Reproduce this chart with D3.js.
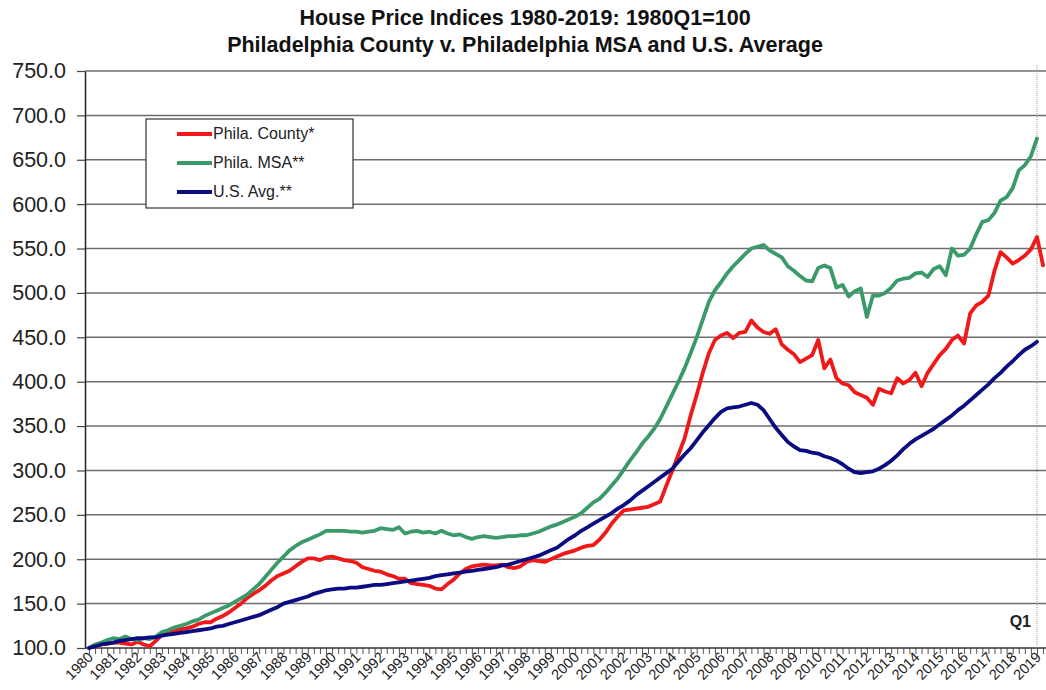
<!DOCTYPE html>
<html><head><meta charset="utf-8">
<script src="https://cdn.jsdelivr.net/npm/d3@7"></script>
<style>body{margin:0;background:#fff} svg{display:block} text{font-family:Arial,"Liberation Sans",sans-serif}</style>
</head><body><svg id="c" width="1046" height="690"></svg>
<script>
const titleLines = ["House Price Indices 1980-2019: 1980Q1=100", "Philadelphia County v. Philadelphia MSA and U.S. Average"];
const yearLabels = ["1980","1981","1982","1983","1984","1985","1986","1987","1988","1989","1990","1991","1992","1993","1994","1995","1996","1997","1998","1999","2000","2001","2002","2003","2004","2005","2006","2007","2008","2009","2010","2011","2012","2013","2014","2015","2016","2017","2018","2019"];
const yTicks = [100,150,200,250,300,350,400,450,500,550,600,650,700,750];
const seriesNames = ["Phila. County*", "Phila. MSA**", "U.S. Avg.**"];
const seriesColors = ["#f01818", "#3a9a6a", "#0c0c82"];

// Quarterly values, 1980Q1 onward
const county = [
100,102,104,105, 106,106,105,104, 107,104,102,108, 115,117,119,121,
122,124,127,129, 129,133,136,140, 145,150,156,161, 165,170,176,181,
184,187,192,197, 201,201,199,202, 203,201,199,198, 196,191,189,187,
186,183,181,178, 178,173,172,171, 170,167,166,172, 177,184,189,192,
193,194,193,193, 194,191,190,192, 197,199,198,197, 200,203,206,208,
210,213,215,216, 222,230,240,248, 255,256,257,258, 259,262,265,283,
300,318,336,362, 385,410,432,447, 452,455,449,455, 456,469,461,456,
454,459,442,436, 431,422,426,430, 447,415,425,404, 398,396,388,385,
382,374,392,389, 387,404,398,402, 410,395,410,420, 430,437,447,452,
443,477,486,490, 497,525,546,540, 533,537,542,549, 563,531];
const msa = [
100,104,106,109, 111,110,113,110, 109,111,110,113, 118,120,123,125,
127,130,132,136, 139,142,145,148, 152,156,160,166, 172,180,188,196,
203,210,215,219, 222,225,228,232, 232,232,232,231, 231,230,231,232,
235,234,233,236, 229,231,232,230, 231,229,232,229, 227,228,225,223,
225,226,225,224, 225,226,226,227, 227,229,231,234, 237,239,242,245,
248,252,258,264, 268,275,283,291, 301,311,320,330, 338,347,358,372,
386,400,415,432, 450,470,490,503, 512,522,530,537, 544,550,552,554,
548,544,540,530, 525,519,514,513, 528,531,528,506, 509,496,502,505,
473,497,497,500, 506,514,516,517, 522,523,518,527, 530,520,550,542,
543,550,566,580, 582,590,604,608, 618,638,644,654, 674];
const usAvg = [
100,102,104,105, 106,108,109,110, 111,111,112,112, 114,115,116,117,
118,119,120,121, 122,124,125,127, 129,131,133,135, 137,140,143,146,
150,152,154,156, 158,161,163,165, 166,167,167,168, 168,169,170,171,
171,172,173,174, 175,176,177,178, 179,181,182,183, 184,185,186,187,
188,189,190,191, 193,194,196,198, 200,202,204,207, 210,213,218,223,
227,232,236,240, 244,248,252,257, 261,266,272,277, 282,287,292,297,
302,310,318,325, 334,343,351,359, 366,370,371,372, 374,376,374,368,
358,348,340,332, 327,323,322,320, 319,316,314,311, 307,302,298,297,
298,299,302,306, 311,317,324,330, 335,339,343,347, 352,357,362,368,
373,379,385,391, 397,404,410,417, 423,430,436,440, 445];
const markerLabel = "Q1";

const svg = d3.select("#c");
const pLeft = 85, pRight = 1046, pTop = 71, pBottom = 648;
const x = d3.scaleLinear().domain([0, 156]).range([89, 1037]);
const y = d3.scaleLinear().domain([100, 750]).range([pBottom, pTop]);

// Title
svg.selectAll("text.title").data(titleLines).join("text")
  .attr("class","title").attr("x", 525).attr("y", (d,i)=> 25 + i*27)
  .attr("text-anchor","middle").attr("font-size", 21.5).attr("font-weight","bold").attr("fill","#111")
  .text(d=>d);

// Gridlines
svg.append("g").selectAll("line").data(yTicks.filter(d=>d>100)).join("line")
  .attr("x1", pLeft).attr("x2", pRight).attr("y1", d=>y(d)).attr("y2", d=>y(d))
  .attr("stroke", "#6e6e6e").attr("stroke-width", 1.5);

// Y axis
const ya = svg.append("g").attr("transform", `translate(${pLeft},0)`)
  .call(d3.axisLeft(y).tickValues(yTicks).tickFormat(d3.format(".1f")).tickSize(8).tickSizeOuter(0).tickPadding(11));
ya.select(".domain").attr("stroke","#222").attr("stroke-width",1.5);
ya.selectAll(".tick line").attr("stroke","#444").attr("stroke-width",1.2);
ya.selectAll(".tick text").attr("font-size", 21.5).attr("fill","#222").attr("font-family","Arial, 'Liberation Sans', sans-serif");

// X axis with quarterly ticks
const xa = svg.append("g").attr("transform", `translate(0,${pBottom})`)
  .call(d3.axisBottom(x).tickValues(d3.range(0, 159)).tickSize(6).tickSizeOuter(0).tickFormat(""));
xa.select(".domain").remove();
xa.selectAll(".tick line").attr("stroke","#555").attr("stroke-width",1);
svg.append("line").attr("x1", pLeft).attr("x2", pRight).attr("y1", pBottom).attr("y2", pBottom).attr("stroke","#333").attr("stroke-width",1.5);

svg.append("g").selectAll("text").data(yearLabels).join("text")
  .attr("transform", (d,i)=> `translate(${x(i*4)+5},${pBottom+10}) rotate(-45)`)
  .attr("text-anchor","end").attr("font-size", 14.5).attr("fill","#222")
  .text(d=>d);

// Q1 marker
svg.append("line").attr("x1", x(156)).attr("x2", x(156)).attr("y1", pTop - 6).attr("y2", pBottom)
  .attr("stroke","#999").attr("stroke-width",1).attr("stroke-dasharray","1,1");
svg.append("text").attr("x", 1031).attr("y", 627).attr("text-anchor","end")
  .attr("font-size", 16).attr("font-weight","bold").attr("fill","#222").text(markerLabel);

// Lines
const line = d3.line().x((d,i)=>x(i)).y(d=>y(d)).curve(d3.curveLinear);
[county, msa, usAvg].forEach((s, k) => {
  svg.append("path").datum(s).attr("d", line).attr("fill","none")
    .attr("stroke", seriesColors[k]).attr("stroke-width", 3.8).attr("stroke-linejoin","round").attr("stroke-linecap","round");
});

// Legend
const lg = svg.append("g");
lg.append("rect").attr("x",146).attr("y",119).attr("width",207).attr("height",89)
  .attr("fill","#fff").attr("stroke","#333").attr("stroke-width",1.2);
seriesNames.forEach((n,k)=>{
  const yy = 134 + k*29;
  lg.append("line").attr("x1",177).attr("x2",212).attr("y1",yy).attr("y2",yy)
    .attr("stroke",seriesColors[k]).attr("stroke-width",4);
  lg.append("text").attr("x",213).attr("y",yy+5).attr("font-size",16).attr("fill","#222").text(n);
});
</script></body></html>
